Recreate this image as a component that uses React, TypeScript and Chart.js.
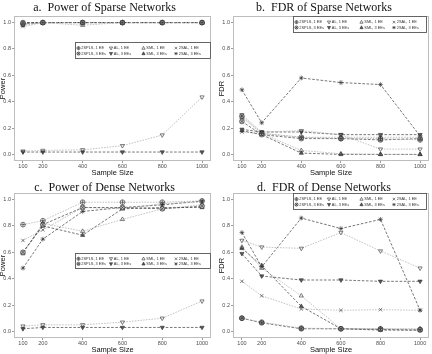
import React, { useEffect, useRef } from "react";
import { Chart, registerables } from "chart.js";

Chart.register(...registerables);

// Shared axis values
const sampleSizes = [100, 200, 400, 600, 800, 1000];
const yTickValues = [0, 0.2, 0.4, 0.6, 0.8, 1.0];

// Series labels (legend is laid out column by column: 1 EE above 3 EEs)
const seriesLabels = [
  "2SPLS, 1 EE",
  "2SPLS, 3 EEs",
  "AL, 1 EE",
  "AL, 3 EEs",
  "SML, 1 EE",
  "SML, 3 EEs",
  "2SAL, 1 EE",
  "2SAL, 3 EEs",
];

// a. Power of sparse networks
const powerSparse2SPLS1 = [0.99, 1.0, 1.0, 1.0, 1.0, 1.0];
const powerSparse2SPLS3 = [1.0, 1.0, 1.0, 1.0, 1.0, 1.0];
const powerSparseAL1 = [0.025, 0.03, 0.035, 0.066, 0.147, 0.435];
const powerSparseAL3 = [0.018, 0.018, 0.018, 0.018, 0.018, 0.018];
const powerSparseSML1 = [0.98, 1.0, 0.98, 1.0, 1.0, 1.0];
const powerSparseSML3 = [1.0, 1.0, 1.0, 1.0, 1.0, 1.0];
const powerSparse2SAL1 = [0.97, 1.0, 1.0, 1.0, 1.0, 1.0];
const powerSparse2SAL3 = [0.99, 1.0, 1.0, 1.0, 1.0, 1.0];

// b. FDR of sparse networks
const fdrSparse2SPLS1 = [0.29, 0.16, 0.13, 0.12, 0.12, 0.11];
const fdrSparse2SPLS3 = [0.25, 0.15, 0.12, 0.12, 0.11, 0.12];
const fdrSparseAL1 = [0.3, 0.17, 0.18, 0.15, 0.04, 0.04];
const fdrSparseAL3 = [0.19, 0.17, 0.17, 0.15, 0.15, 0.15];
const fdrSparseSML1 = [0.28, 0.16, 0.03, 0.005, 0.0, 0.0];
const fdrSparseSML3 = [0.18, 0.15, 0.01, 0.0, 0.0, 0.0];
const fdrSparse2SAL1 = [0.17, 0.16, 0.13, 0.13, 0.13, 0.13];
const fdrSparse2SAL3 = [0.49, 0.24, 0.58, 0.545, 0.53, 0.14];

// c. Power of dense networks
const powerDense2SPLS1 = [0.81, 0.84, 0.98, 0.98, 0.98, 0.99];
const powerDense2SPLS3 = [0.6, 0.81, 0.94, 0.94, 0.93, 0.95];
const powerDenseAL1 = [0.04, 0.05, 0.05, 0.07, 0.1, 0.23];
const powerDenseAL3 = [0.02, 0.03, 0.03, 0.03, 0.03, 0.03];
const powerDenseSML1 = [0.59, 0.82, 0.76, 0.85, 0.93, 0.96];
const powerDenseSML3 = [0.6, 0.8, 0.73, 0.93, 0.94, 0.94];
const powerDense2SAL1 = [0.69, 0.77, 0.94, 0.93, 0.97, 0.98];
const powerDense2SAL3 = [0.48, 0.7, 0.91, 0.94, 0.96, 0.99];

// d. FDR of dense networks
const fdrDense2SPLS1 = [0.1, 0.07, 0.025, 0.02, 0.02, 0.015];
const fdrDense2SPLS3 = [0.1, 0.065, 0.02, 0.02, 0.015, 0.01];
const fdrDenseAL1 = [0.69, 0.64, 0.63, 0.75, 0.61, 0.48];
const fdrDenseAL3 = [0.59, 0.42, 0.39, 0.39, 0.38, 0.38];
const fdrDenseSML1 = [0.64, 0.48, 0.27, 0.02, 0.02, 0.02];
const fdrDenseSML3 = [0.63, 0.5, 0.19, 0.02, 0.01, 0.01];
const fdrDense2SAL1 = [0.38, 0.27, 0.17, 0.16, 0.165, 0.16];
const fdrDense2SAL3 = [0.75, 0.49, 0.86, 0.78, 0.85, 0.16];

// Marker look per series: built-in point style, rotation, fill, inner mark
type MarkerSpec = { style: string; rotation: number; fill: string; inner: string };
const markerSpecs: MarkerSpec[] = [
  { style: "circle", rotation: 0, fill: "rgba(0,0,0,0)", inner: "plus" },
  { style: "circle", rotation: 0, fill: "#bdbdbd", inner: "cross" },
  { style: "triangle", rotation: 180, fill: "rgba(0,0,0,0)", inner: "" },
  { style: "triangle", rotation: 180, fill: "#5a5a5a", inner: "" },
  { style: "triangle", rotation: 0, fill: "rgba(0,0,0,0)", inner: "" },
  { style: "triangle", rotation: 0, fill: "#5a5a5a", inner: "" },
  { style: "crossRot", rotation: 0, fill: "rgba(0,0,0,0)", inner: "" },
  { style: "star", rotation: 0, fill: "rgba(0,0,0,0)", inner: "" },
];

const MARKER_COLOR = "#2e2e2e";
const MARKER_RADIUS = 2.4;
const LIGHT_LINE = "#ababab";
const DARK_LINE = "#3c3c3c";

function drawInner(ctx: CanvasRenderingContext2D, kind: string, x: number, y: number, r: number) {
  if (!kind) return;
  ctx.beginPath();
  if (kind === "plus") {
    ctx.moveTo(x - r, y);
    ctx.lineTo(x + r, y);
    ctx.moveTo(x, y - r);
    ctx.lineTo(x, y + r);
  } else {
    const d = r * 0.7;
    ctx.moveTo(x - d, y - d);
    ctx.lineTo(x + d, y + d);
    ctx.moveTo(x - d, y + d);
    ctx.lineTo(x + d, y - d);
  }
  ctx.stroke();
}

// Legend symbols, drawn with the same shapes as the plotted points
function drawSymbol(ctx: CanvasRenderingContext2D, m: MarkerSpec, x: number, y: number, r: number) {
  ctx.save();
  ctx.strokeStyle = MARKER_COLOR;
  ctx.fillStyle = m.fill;
  ctx.lineWidth = 0.6;
  ctx.beginPath();
  if (m.style === "circle") {
    ctx.arc(x, y, r, 0, Math.PI * 2);
    ctx.fill();
    ctx.stroke();
    drawInner(ctx, m.inner, x, y, r);
  } else if (m.style === "triangle") {
    const s = m.rotation === 180 ? -1 : 1;
    ctx.moveTo(x, y - s * r * 1.1);
    ctx.lineTo(x + r, y + s * r * 0.7);
    ctx.lineTo(x - r, y + s * r * 0.7);
    ctx.closePath();
    ctx.fill();
    ctx.stroke();
  } else {
    const d = r * 0.8;
    ctx.moveTo(x - d, y - d);
    ctx.lineTo(x + d, y + d);
    ctx.moveTo(x - d, y + d);
    ctx.lineTo(x + d, y - d);
    if (m.style === "star") {
      ctx.moveTo(x - r, y);
      ctx.lineTo(x + r, y);
      ctx.moveTo(x, y - r);
      ctx.lineTo(x, y + r);
    }
    ctx.stroke();
  }
  ctx.restore();
}

type Box = { x: number; y: number; w: number; h: number };

type PanelSpec = {
  left: number;
  top: number;
  title: string;
  titleX: number;
  titleY: number;
  yTitle: string;
  plotLeft: number;
  plotRight: number;
  legend: Box;
  series: number[][];
};

const PANEL_W = 216;
const PANEL_H = 177;
const PLOT_TOP = 16;
const PLOT_BOTTOM = 161;

const panels: PanelSpec[] = [
  {
    left: 0,
    top: 0,
    title: "a.  Power of Sparse Networks",
    titleX: 104.5,
    titleY: 8,
    yTitle: "Power",
    plotLeft: 14,
    plotRight: 211,
    legend: { x: 75, y: 42, w: 136, h: 17 },
    series: [
      powerSparse2SPLS1,
      powerSparse2SPLS3,
      powerSparseAL1,
      powerSparseAL3,
      powerSparseSML1,
      powerSparseSML3,
      powerSparse2SAL1,
      powerSparse2SAL3,
    ],
  },
  {
    left: 216,
    top: 0,
    title: "b.  FDR of Sparse Networks",
    titleX: 108,
    titleY: 8,
    yTitle: "FDR",
    plotLeft: 17,
    plotRight: 215,
    legend: { x: 77, y: 16, w: 134, h: 17 },
    series: [
      fdrSparse2SPLS1,
      fdrSparse2SPLS3,
      fdrSparseAL1,
      fdrSparseAL3,
      fdrSparseSML1,
      fdrSparseSML3,
      fdrSparse2SAL1,
      fdrSparse2SAL3,
    ],
  },
  {
    left: 0,
    top: 177,
    title: "c.  Power of Dense Networks",
    titleX: 104.5,
    titleY: 10.5,
    yTitle: "Power",
    plotLeft: 14,
    plotRight: 211,
    legend: { x: 75, y: 76, w: 136, h: 16 },
    series: [
      powerDense2SPLS1,
      powerDense2SPLS3,
      powerDenseAL1,
      powerDenseAL3,
      powerDenseSML1,
      powerDenseSML3,
      powerDense2SAL1,
      powerDense2SAL3,
    ],
  },
  {
    left: 216,
    top: 177,
    title: "d.  FDR of Dense Networks",
    titleX: 108,
    titleY: 10.5,
    yTitle: "FDR",
    plotLeft: 17,
    plotRight: 215,
    legend: { x: 77, y: 16, w: 134, h: 17 },
    series: [
      fdrDense2SPLS1,
      fdrDense2SPLS3,
      fdrDenseAL1,
      fdrDenseAL3,
      fdrDenseSML1,
      fdrDenseSML3,
      fdrDense2SAL1,
      fdrDense2SAL3,
    ],
  },
];

// Panel border, inner marks of the circle markers, title, axis titles and the boxed legend
const decorPlugin = {
  id: "decor",
  beforeDatasetsDraw(chart: any) {
    const { ctx, chartArea: a } = chart;
    ctx.save();
    ctx.strokeStyle = "#bdbdbd";
    ctx.lineWidth = 1;
    ctx.strokeRect(a.left + 0.5, a.top + 0.5, a.right - a.left - 1, a.bottom - a.top - 1);
    ctx.restore();
  },
  afterDatasetsDraw(chart: any) {
    const { ctx } = chart;
    ctx.save();
    ctx.strokeStyle = MARKER_COLOR;
    ctx.lineWidth = 0.6;
    chart.data.datasets.forEach((_ds: any, i: number) => {
      const spec = markerSpecs[i];
      if (!spec.inner) return;
      chart.getDatasetMeta(i).data.forEach((pt: any) => {
        drawInner(ctx, spec.inner, pt.x, pt.y, MARKER_RADIUS);
      });
    });
    ctx.restore();
  },
  afterDraw(chart: any, _args: any, o: any) {
    const { ctx, chartArea: a } = chart;
    ctx.save();
    // title
    ctx.fillStyle = "#111";
    ctx.font = "12px 'Liberation Serif'";
    ctx.textAlign = "center";
    ctx.textBaseline = "middle";
    ctx.fillText(o.title, o.titleX, o.titleY);

    // x axis title
    ctx.font = "7.5px 'Liberation Sans'";
    ctx.fillStyle = "#111";
    ctx.fillText("Sample Size", (a.left + a.right) / 2, 172.5);

    // y axis title
    ctx.save();
    ctx.translate(a.left - 11.5, (a.top + a.bottom) / 2);
    ctx.rotate(-Math.PI / 2);
    ctx.fillText(o.yTitle, 0, 0);
    ctx.restore();

    // legend
    const b: Box = o.legend;
    ctx.fillStyle = "#fff";
    ctx.fillRect(b.x, b.y, b.w, b.h);
    ctx.strokeStyle = "#555";
    ctx.lineWidth = 0.9;
    ctx.strokeRect(b.x + 0.5, b.y + 0.5, b.w - 1, b.h - 1);
    const colOffsets = [3.5, 36, 68.5, 101];
    const rowOffsets = [b.h * 0.36, b.h * 0.68];
    ctx.font = "3.9px 'Liberation Sans'";
    ctx.textAlign = "left";
    ctx.textBaseline = "middle";
    seriesLabels.forEach((label, i) => {
      const col = Math.floor(i / 2);
      const row = i % 2;
      const sx = b.x + colOffsets[col];
      const sy = b.y + rowOffsets[row];
      drawSymbol(ctx, markerSpecs[i], sx, sy, 1.6);
      ctx.fillStyle = "#333";
      ctx.fillText(label, sx + 2.8, sy + 0.3);
    });
    ctx.restore();
  },
};

function Panel({ spec }: { spec: PanelSpec }) {
  const ref = useRef<HTMLCanvasElement | null>(null);
  useEffect(() => {
    if (!ref.current) return;
    const datasets = spec.series.map((vals, i) => {
      const light = i % 2 === 0;
      const m = markerSpecs[i];
      return {
        label: seriesLabels[i],
        data: sampleSizes.map((x, j) => ({ x, y: vals[j] })),
        borderColor: light ? LIGHT_LINE : DARK_LINE,
        borderWidth: 0.7,
        borderDash: light ? [1.6, 1.2] : [2.6, 1.6],
        pointStyle: m.style as any,
        pointRotation: m.rotation,
        pointRadius: MARKER_RADIUS,
        pointHoverRadius: MARKER_RADIUS,
        pointBorderWidth: 0.6,
        pointBorderColor: MARKER_COLOR,
        pointBackgroundColor: m.fill,
        fill: false,
        tension: 0,
        clip: false as any,
      };
    });
    const chart = new Chart(ref.current, {
      type: "line",
      data: { datasets },
      plugins: [decorPlugin as any],
      options: {
        animation: false,
        responsive: false,
        devicePixelRatio: 1,
        events: [],
        layout: {
          padding: { left: 0, top: PLOT_TOP, right: PANEL_W - spec.plotRight, bottom: 0 },
        },
        plugins: {
          legend: { display: false },
          tooltip: { enabled: false },
          title: { display: false },
          decor: {
            title: spec.title,
            titleX: spec.titleX,
            titleY: spec.titleY,
            yTitle: spec.yTitle,
            legend: spec.legend,
          },
        } as any,
        scales: {
          x: {
            type: "linear",
            min: 55,
            max: 1045,
            afterBuildTicks: (s: any) => {
              s.ticks = sampleSizes.map((v) => ({ value: v }));
            },
            afterFit: (s: any) => {
              s.height = PANEL_H - PLOT_BOTTOM;
            },
            grid: {
              display: true,
              drawOnChartArea: false,
              drawTicks: true,
              tickLength: 2,
              color: "#555",
              lineWidth: 0.6,
            },
            border: { display: false },
            ticks: {
              autoSkip: false,
              maxRotation: 0,
              padding: 0.5,
              color: "#4d4d4d",
              font: { family: "'Liberation Sans'", size: 5.5 },
              callback: (v: any) => String(v),
            },
          },
          y: {
            type: "linear",
            min: -0.05,
            max: 1.05,
            afterBuildTicks: (s: any) => {
              s.ticks = yTickValues.map((v) => ({ value: v }));
            },
            afterFit: (s: any) => {
              s.width = spec.plotLeft;
            },
            grid: {
              display: true,
              drawOnChartArea: false,
              drawTicks: true,
              tickLength: 2,
              color: "#555",
              lineWidth: 0.6,
            },
            border: { display: false },
            ticks: {
              autoSkip: false,
              padding: 1,
              color: "#4d4d4d",
              font: { family: "'Liberation Sans'", size: 5.5 },
              callback: (v: any) => Number(v).toFixed(1),
            },
          },
        },
      },
    });
    return () => chart.destroy();
  }, [spec]);
  return (
    <canvas
      ref={ref}
      width={PANEL_W}
      height={PANEL_H}
      style={{ position: "absolute", left: spec.left, top: spec.top, width: PANEL_W, height: PANEL_H }}
    />
  );
}

export default function App() {
  return (
    <div
      style={{
        position: "absolute",
        left: 0,
        top: 0,
        width: 432,
        height: 354,
        background: "#fff",
        overflow: "hidden",
      }}
    >
      {panels.map((p, i) => (
        <Panel key={i} spec={p} />
      ))}
    </div>
  );
}
